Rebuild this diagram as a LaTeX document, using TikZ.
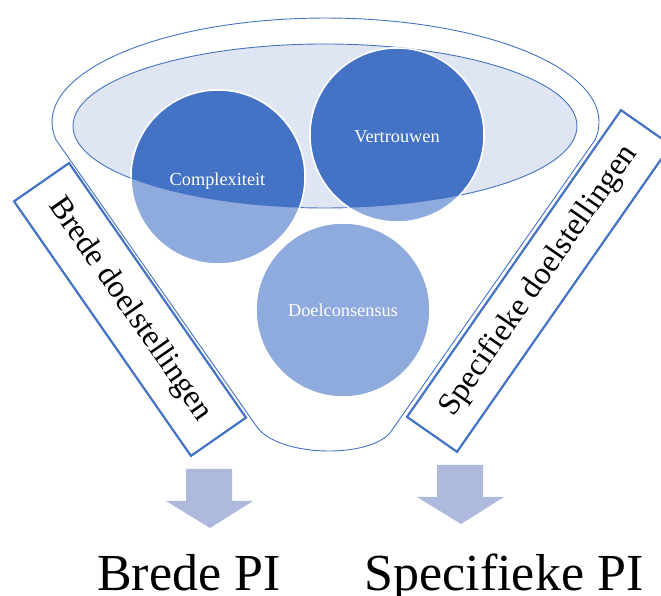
\documentclass[tikz,border=0pt]{standalone}
\usepackage{fontspec}
\setmainfont[Ligatures = NoCommon]{Liberation Serif}
\usetikzlibrary{calc, shapes}

\definecolor{darkblue}{HTML}{4472C4}
\definecolor{lightblue}{HTML}{8FAADC}
\definecolor{paleblue}{HTML}{DFE5F2}
\definecolor{arrowblue}{HTML}{AEBADD}

\begin{document}
\begin{tikzpicture}[x = 1pt, y = 1pt,
        funnelline/.style = {draw = darkblue, line width = 0.9pt},
        topic/.style = {circle, minimum size = 174pt, inner sep = 0pt, fill = lightblue, draw = white, line width = 1.5pt},
        topictext/.style = {text = white, font = \fontsize{18.3}{22}\selectfont, anchor = base},
        goalbox/.style = {draw = darkblue, line width = 2.2pt, fill = white, align = center, inner sep = 0pt, font = \fontsize{32}{38}\selectfont},
        outcome/.style = {font = \fontsize{52}{60}\selectfont, anchor = base},
        downarrow/.style = {fill = arrowblue}]
            \useasboundingbox (0, 0) rectangle (661, 596);

            \coordinate (rim) at (325.5, 474);
            \coordinate (inner) at (325, 470);
            \coordinate (broadtip) at (210, 68);
            \coordinate (specifictip) at (461, 72);

            % funnel
            \draw[funnelline] (56.2, 455.9) arc[start angle = 190, end angle = -10, x radius = 273.5, y radius = 104] -- (392, 166) .. controls (375, 137.5) and (280, 137.5) .. (257, 169) -- cycle;
            \filldraw[funnelline, fill = paleblue] (inner) ellipse [x radius = 252, y radius = 82];

            \node[topic] (cplx) at (218, 419) {};
            \node[topic] (vtr) at (397, 461) {};
            \node[topic] (dcs) at (343, 286) {};

            \begin{scope}
                \clip (inner) ellipse [x radius = 252, y radius = 82];
                \foreach \c in {cplx, vtr} {
                    \filldraw[fill = darkblue, draw = white, line width = 1.5pt] (\c) circle (87);
                }
            \end{scope}

            \node[topictext] (cplxtext) at (217.5, 410) {Complexiteit};
            \node[topictext] (vtrtext) at (397, 453) {Vertrouwen};
            \node[topictext] (dcstext) at (343, 279) {Doelconsensus};

            \node[goalbox, rotate = -55.2, minimum width = 310pt, minimum height = 67pt] (broad) at (130, 286.5) {Brede doelstellingen};
            \node[goalbox, rotate = 55.1, minimum width = 374pt, minimum height = 61pt] (specific) at (539, 315) {Specifieke doelstellingen};

            \foreach \tip in {broadtip, specifictip} {
                \fill[downarrow] (\tip) -- ++(-44, 27) -- ++(20, 0) -- ++(0, 32) -- ++(46, 0) -- ++(0, -32) -- ++(21, 0) -- cycle;
            }

            \node[outcome] (broadpi) at (189, 5) {Brede PI};
            \node[outcome] (specificpi) at (504, 5) {Specifieke PI};
\end{tikzpicture}
\end{document}
